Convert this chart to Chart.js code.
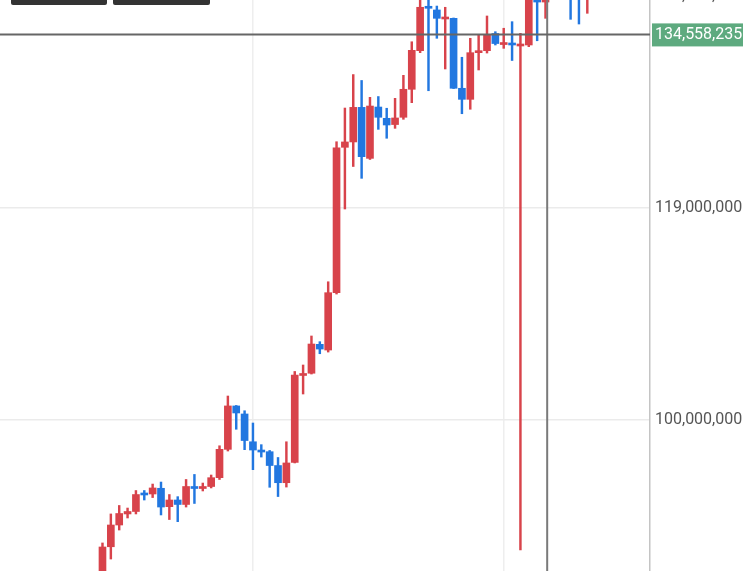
<!DOCTYPE html>
<html>
<head>
<meta charset="utf-8">
<script src="https://cdn.jsdelivr.net/npm/chart.js@4"></script>
<style>
  html, body { margin: 0; padding: 0; background: #fff; overflow: hidden; }
  body { width: 743px; height: 571px; position: relative; }
  #wrap { position: absolute; left: -2px; top: -30px; width: 745px; height: 630px; }
  .btn { position: absolute; top: 0; height: 5px; background: #333; border-radius: 0 0 2px 2px; }
</style>
</head>
<body>
<div class="btn" style="left:11px;width:96px"></div>
<div class="btn" style="left:113px;width:97px"></div>
<div id="wrap"><canvas id="candles"></canvas></div>
<script>
// candles, oldest first (KRW)
const opens = [85660000, 88640000, 90590000, 91580000, 91800000, 93460000, 93370000, 93880000, 92230000, 92830000,
  92430000, 94040000, 93860000, 94040000, 94830000, 97370000, 101260000, 100540000, 98050000, 97310000,
  97160000, 95920000, 94380000, 96190000, 103990000, 104190000, 106780000, 106270000, 111410000, 124440000,
  124920000, 128020000, 123450000, 128050000, 127040000, 126480000, 127130000, 129640000, 133100000, 137060000,
  136750000, 135940000, 136000000, 129730000, 128740000, 132920000, 133100000, 134640000, 133650000, 133760000,
  133520000, 133610000, 139000000, 137460000, 139600000, 138400000, 140300000, 139200000, 138500000];
const highs = [88980000, 91580000, 92340000, 92110000, 93680000, 93680000, 94260000, 94440000, 93320000, 93130000,
  94670000, 95120000, 94350000, 95070000, 97690000, 102150000, 101300000, 100830000, 99730000, 97790000,
  97270000, 96640000, 98050000, 104350000, 104930000, 107530000, 107020000, 112390000, 124940000, 127960000,
  130960000, 130430000, 128920000, 128990000, 127940000, 128830000, 130890000, 133900000, 137820000, 137910000,
  137100000, 136990000, 136030000, 132510000, 134210000, 134510000, 136210000, 134800000, 135110000, 135700000,
  134660000, 138600000, 139500000, 139300000, 140100000, 140600000, 141000000, 139800000, 140200000];
const lows = [84760000, 87540000, 90140000, 91220000, 91580000, 92830000, 93050000, 91490000, 91080000, 90890000,
  92200000, 92520000, 93640000, 93910000, 94670000, 97220000, 99170000, 97340000, 95550000, 96680000,
  93970000, 93140000, 93990000, 96150000, 102330000, 104120000, 105940000, 106090000, 111290000, 118910000,
  122720000, 121660000, 123350000, 126050000, 125250000, 126140000, 126950000, 128440000, 132920000, 129510000,
  134210000, 131460000, 129710000, 127450000, 127850000, 131370000, 132890000, 133610000, 133310000, 132220000,
  88350000, 133460000, 133990000, 136000000, 137700000, 137900000, 135910000, 135490000, 136450000];
const closes = [88620000, 90590000, 91620000, 91800000, 93320000, 93280000, 93910000, 92200000, 92830000, 92430000,
  94040000, 93860000, 94040000, 94830000, 97370000, 101260000, 100630000, 98160000, 97310000, 97130000,
  95920000, 94380000, 96150000, 104030000, 104170000, 106810000, 106360000, 111410000, 124400000, 124920000,
  128020000, 123600000, 128140000, 127130000, 126440000, 127070000, 129640000, 133130000, 136990000, 136900000,
  136000000, 136070000, 129730000, 128740000, 132920000, 133100000, 134510000, 133740000, 133790000, 133610000,
  133650000, 138100000, 137460000, 138900000, 138400000, 140000000, 139200000, 138500000, 139600000];

const yTicks = [100000000, 119000000, 138000000];
const crossPrice = 134558235;
const crossIndex = 53.2;      // candle position of the vertical crosshair
const gridCandles = [18, 48]; // candles with a vertical grid line

// empty slots around the visible candles
const lead = 12, tail = 7;
const pad = a => Array(lead).fill(null).concat(a, Array(tail).fill(null));
const slots = pad(opens.map((_, i) => 'c' + i));
slots.forEach((s, i) => { if (s === null) slots[i] = 's' + i; });

const UP = '#d8434b', DOWN = '#2277e0';
const colors = pad(opens.map((o, i) => closes[i] >= o ? UP : DOWN));
const wicks = pad(lows.map((l, i) => [l, highs[i]]));
const bodies = pad(opens.map((o, i) => [o, closes[i]]));

const crosshair = {
  id: 'crosshair',
  afterDatasetsDraw(chart) {
    const { ctx, chartArea: a, scales: { x, y } } = chart;
    const py = y.getPixelForValue(crossPrice);
    const px = x.getPixelForValue(lead + crossIndex);
    ctx.save();
    ctx.lineWidth = 2;
    ctx.strokeStyle = '#7a7a7a';
    ctx.beginPath(); ctx.moveTo(px, a.top); ctx.lineTo(px, a.bottom); ctx.stroke();
    ctx.strokeStyle = '#666';
    ctx.beginPath(); ctx.moveTo(a.left, py); ctx.lineTo(a.right, py); ctx.stroke();
    ctx.fillStyle = '#5eaa7f';
    ctx.fillRect(a.right + 2, py - 11, chart.width - a.right - 2, 23);
    ctx.fillStyle = '#fff';
    ctx.font = '16px Roboto';
    ctx.textBaseline = 'middle';
    ctx.fillText(crossPrice.toLocaleString('en-US'), a.right + 5, py + 1);
    ctx.restore();
  }
};

new Chart(document.getElementById('candles'), {
  type: 'bar',
  data: {
    labels: slots,
    datasets: [
      { data: wicks, backgroundColor: colors, barThickness: 1.8, grouped: false },
      { data: bodies, backgroundColor: colors, barThickness: 7, minBarLength: 2, grouped: false }
    ]
  },
  options: {
    responsive: true,
    maintainAspectRatio: false,
    animation: false,
    layout: { padding: 0 },
    plugins: { legend: { display: false }, tooltip: { enabled: false } },
    scales: {
      x: {
        ticks: { display: false },
        border: { display: false },
        grid: {
          offset: false,
          drawTicks: false,
          lineWidth: 1.5,
          color: c => gridCandles.includes(c.index - lead) ? '#eeeeee' : 'rgba(0,0,0,0)'
        },
        afterFit: s => { s.height = 0; s.paddingLeft = 0; s.paddingRight = 0; }
      },
      y: {
        position: 'right',
        min: 83868000,
        max: 140331000,
        border: { display: true, color: '#c4c4c4', width: 1.5 },
        grid: { color: '#ebebeb', lineWidth: 1.5, drawTicks: false },
        ticks: {
          padding: 5,
          color: '#555',
          font: { family: 'Roboto', size: 16 },
          callback: v => v.toLocaleString('en-US')
        },
        afterBuildTicks: s => { s.ticks = yTicks.map(v => ({ value: v })); },
        afterFit: s => { s.width = 93; s.paddingTop = 0; s.paddingBottom = 0; }
      }
    }
  },
  plugins: [crosshair]
});
</script>
</body>
</html>
